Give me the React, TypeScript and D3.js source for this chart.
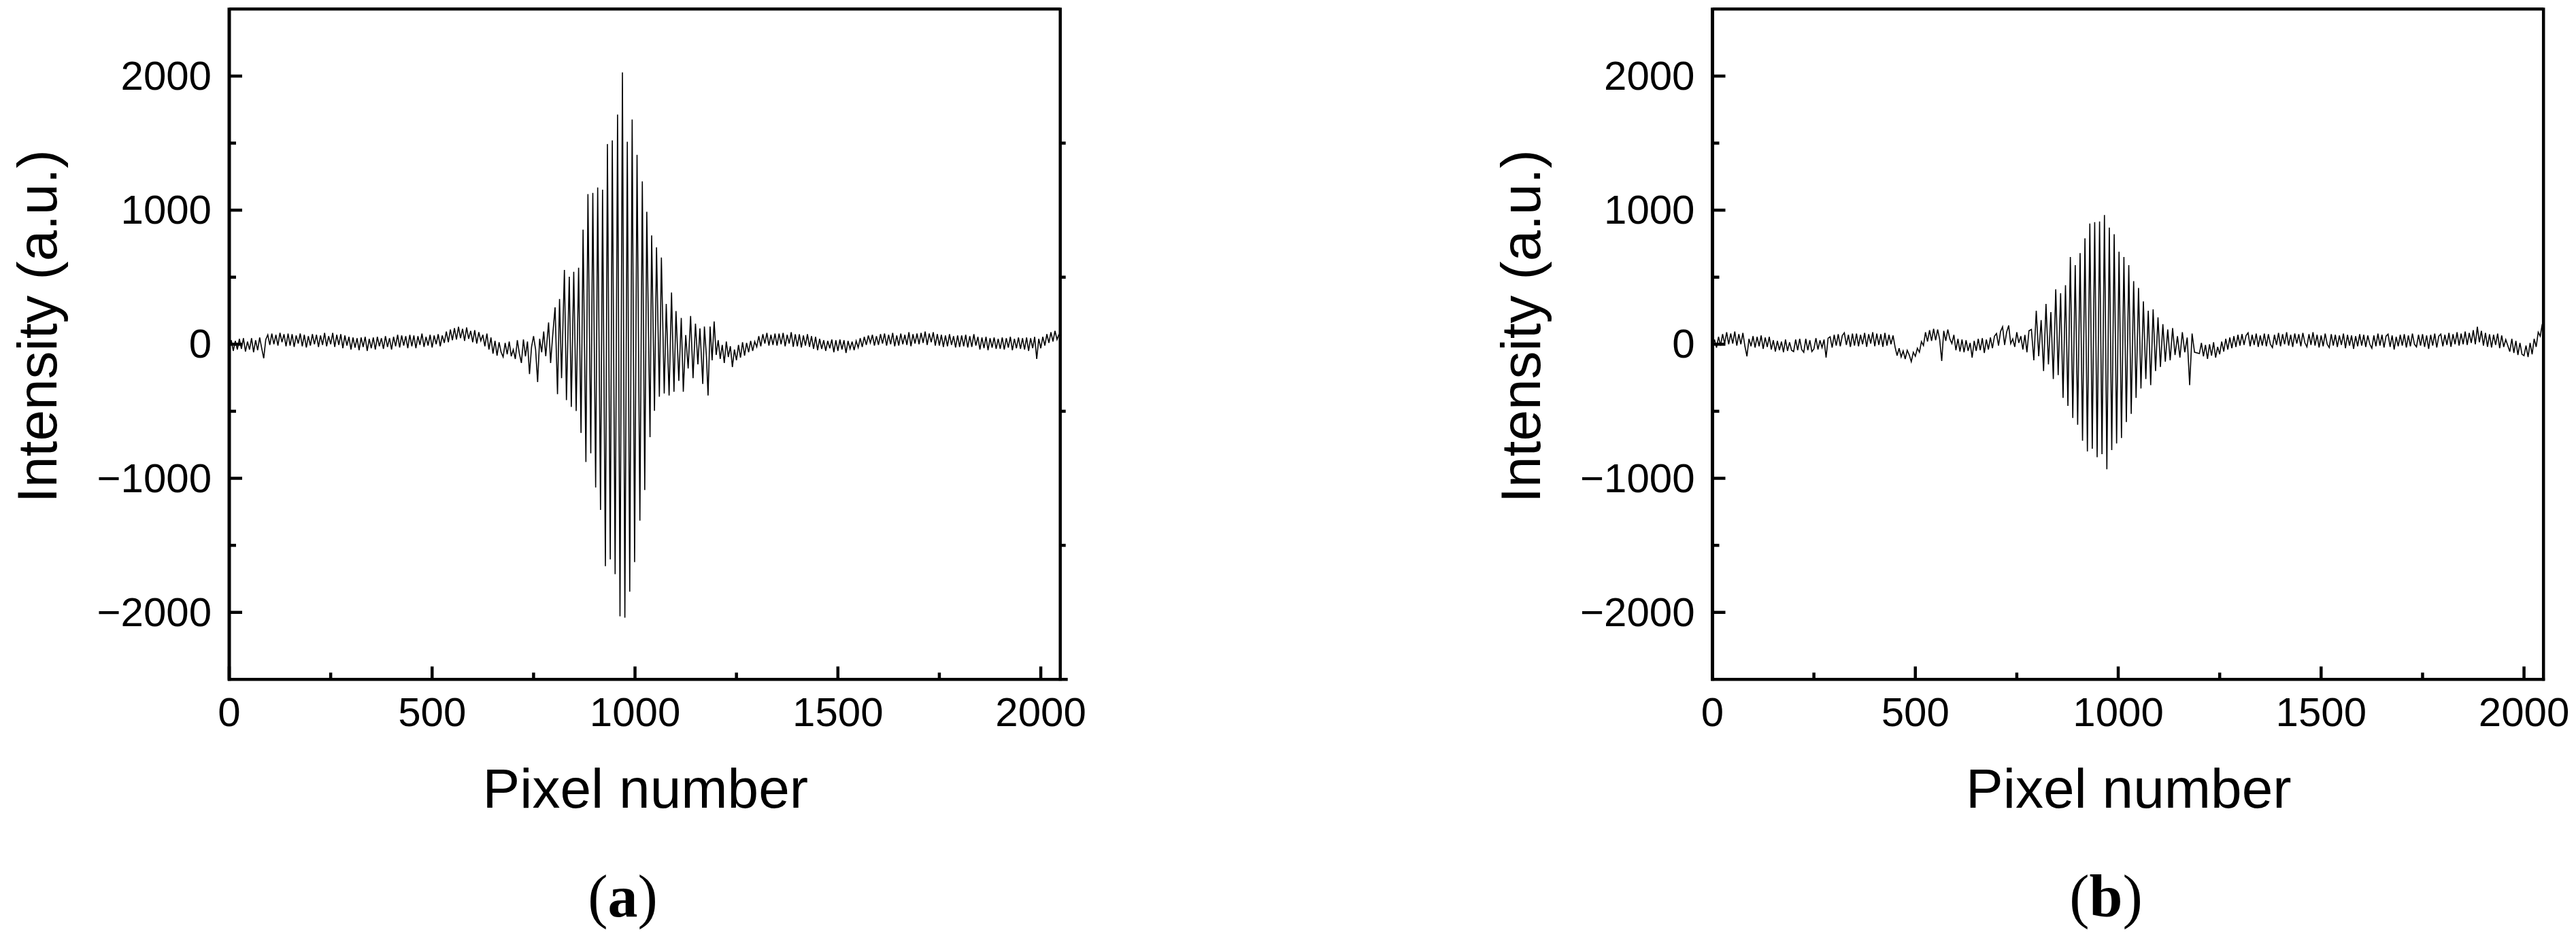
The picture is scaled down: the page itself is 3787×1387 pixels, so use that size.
import React from 'react';
import * as d3 from 'd3';

// ---------- axis ticks ----------
const xMajor = [0, 500, 1000, 1500, 2000];
const xMinor = [250, 750, 1250, 1750];
const yMajor = [-2000, -1000, 0, 1000, 2000];
const yMinor = [-1500, -500, 500, 1500];
const xDomain = [0, 2048];
const yDomain = [-2500, 2500];

// ---------- panel (a) ----------
// baseline samples every 5 pixels from pixel 0 to 735
const headA = [
  -45, 30, -50, 25, -40, 40, -35, 45, -55, 20,
  -40, 45, -60, 30, -45, 50, -30, -105, 35, 70,
  -5, 80, 0, 70, -10, 85, 15, 75, -15, 80,
  -10, 75, -20, 65, 5, 80, -15, 70, -25, 60,
  -10, 75, 0, 70, -20, 65, -5, 85, -15, 60,
  0, 85, -20, 70, -5, 75, -30, 65, -10, 55,
  -40, 50, -25, 45, -45, 50, -20, 55, -50, 40,
  -30, 50, -40, 55, -15, 45, -35, 60, -20, 45,
  -40, 55, -15, 70, -25, 65, -10, 60, -30, 70,
  -15, 65, -30, 60, -5, 80, -20, 55, -10, 70,
  -25, 65, 0, 75, -15, 65, 10, 95, 15, 110,
  30, 120, 35, 130, 45, 115, 25, 125, 40, 100,
  15, 105, 5, 90, 25, 70, -15, 80, -40, 50,
  -70, 25, -85, 15, -60, -95, 10, -75, 20, -90,
  -40, -110, 30, -70, -140, 35, -90, 20,
];
// fringe extrema [pixel, intensity]
const burstA: [number, number][] = [
  [740, -223], [745, -20], [750, 60], [755, -40], [760, -282], [765, 40], [770, -60], [775, 95], [780, -90],
  [787, 162], [792, -140], [797, 60], [803, 275], [809, -372], [814, 338], [819, -253], [826, 554], [831, -417],
  [838, 503], [843, -468], [849, 540], [855, -498], [861, 571], [867, -662], [872, 855], [879, -878],
  [884, 1120], [891, -814], [896, 1128], [903, -1068], [908, 1169], [915, -1236], [920, 1152], [927, -1655],
  [932, 1493], [939, -1605], [944, 1520], [951, -1715], [957, 1713], [963, -2030], [969, 2027], [975, -2039],
  [981, 1510], [987, -1845], [993, 1676], [999, -1625], [1005, 1412], [1012, -1316], [1018, 1215], [1024, -1088],
  [1029, 988], [1037, -693], [1041, 811], [1048, -497], [1053, 723], [1060, -392], [1065, 647], [1072, -367],
  [1077, 300], [1084, -383], [1090, 385], [1096, -355], [1101, 247], [1108, -274], [1114, 196], [1119, -355],
  [1125, 68], [1131, -181], [1137, 211], [1143, -253], [1149, 154], [1155, -150], [1160, 118], [1167, -296],
  [1171, 132], [1176, -90], [1180, -383], [1185, 132], [1190, -120], [1195, 170],
];
// baseline samples every 5 pixels from pixel 1200 to 2045
const tailA = [
  -80, 30, -110, -5, -140, 20, -95, -15, -170, -40,
  -120, -5, -100, 15, -85, 10, -60, 25, -50, 20,
  -20, 60, -15, 75, 5, 85, -10, 70, -5, 80,
  -10, 80, 0, 85, -15, 70, 5, 90, -20, 75,
  -15, 75, -25, 65, -10, 75, -20, 60, -35, 55,
  -45, 40, -35, 30, -50, 25, -30, 35, -60, 30,
  -50, 35, -40, 30, -65, 25, -35, 20, -45, 25,
  -25, 45, -20, 55, -5, 65, 10, 70, -10, 60,
  -5, 75, 5, 80, -10, 70, 0, 85, -15, 65,
  -10, 80, 0, 70, -5, 90, -15, 75, 5, 80,
  0, 85, 10, 95, -5, 80, 15, 90, -10, 75,
  -10, 70, -20, 65, -15, 75, -5, 60, -25, 65,
  -20, 65, -15, 70, -25, 60, -20, 75, -10, 55,
  -40, 50, -30, 55, -45, 45, -25, 50, -35, 40,
  -35, 50, -40, 45, -25, 55, -45, 40, -30, 50,
  -35, 45, -40, 50, -50, 45, -30, 55, -110, 40,
  -30, 55, -10, 75, 10, 90, 20, 100, 35, 75,
];

// ---------- panel (b) ----------
const headB = [
  -30, 35, -25, 55, -10, 75, 5, 90, 0, 80,
  5, 95, -10, 75, 0, 85, -15, -90, 40, -15,
  60, -25, 55, -15, 65, -35, 50, -20, 55, -40,
  30, -55, 25, -45, 20, -60, 35, -50, 15, -45,
  -55, 35, -45, 40, -40, -60, 40, -45, 30, -55,
  -35, 45, -40, 30, -25, 35, -100, 45, 55, -25,
  70, -10, 75, -15, 65, 85, -5, 70, -20, 80,
  -10, 80, -15, 70, 0, 85, -20, 75, 5, 90,
  -15, 80, -5, 75, -20, 85, -10, 70, 0, 65,
  -20, -85, -30, -95, -50, -110, -45, -80, -130, -60,
  -90, -30, -60, 20, -10, 90, 20, 105, 25, 115,
  30, 110, 35, -125, 100, 25, 110, 40, 5, 70,
  -45, 40, -55, 35, -60, 30, -50, 10, -100, 25,
  -50, 40, -45, 45, -65, 35, -40, 50, -30, 60,
  80, -10, 95, 130, -5, 90, 140, 5,
];
const burstB: [number, number][] = [
  [740, 40], [745, -20], [750, 90], [755, 10], [760, 60], [765, -40], [770, 70], [775, -60], [780, 100],
  [786, 110], [792, -120], [798, 250], [804, -90], [810, 180], [816, -200], [822, 300], [828, -150],
  [834, 240], [840, -260], [846, 410], [852, -230], [858, 380], [864, -400], [870, 440], [876, -460],
  [882, 650], [888, -550], [894, 590], [900, -600], [906, 680], [912, -720], [918, 790], [924, -800],
  [930, 900], [936, -780], [942, 910], [948, -843], [954, 915], [960, -820], [966, 964], [972, -933],
  [978, 870], [984, -790], [990, 820], [996, -740], [1002, 690], [1008, -700], [1014, 650], [1020, -580],
  [1026, 590], [1032, -520], [1038, 470], [1044, -400], [1050, 420], [1056, -330], [1062, 320], [1068, -260],
  [1074, 250], [1080, -305], [1086, 260], [1092, -200], [1098, 200], [1104, -170], [1110, 150], [1116, -130],
  [1122, 110], [1128, -120], [1134, 120], [1140, -80], [1146, 60], [1152, -100], [1158, 90], [1164, -60],
  [1170, 50], [1176, -305], [1182, 80], [1188, -60],
];
const tailB = [
  -70, 10, -90, -5, -110, 0, -85, 15, -100, -20,
  -75, 20, -55, 40, -40, 50, -30, 60, -20, 70,
  -10, 75, -5, 65, 85, -15, 70, -5, 80, -20,
  65, -10, 80, -15, 75, 0, -25, 70, -5, 85,
  -15, 75, 0, 90, -10, 70, -20, 80, 5, 75,
  -15, 85, 10, -20, 75, -5, 90, -10, 70, -25,
  65, -15, 80, 0, -25, 75, -10, 70, -20, 65,
  -5, 80, -30, 70, -10, 65, -35, 60, -15, 75,
  -10, 70, -20, 65, 0, -30, 65, -15, 80, -10,
  70, -25, 60, 75, -20, 65, -40, 55, -15, 70,
  -10, 75, -25, 65, -15, 80, 0, -20, 70, -10,
  75, -20, 65, -35, 70, -10, 80, -25, 60, 75,
  -15, 70, -5, 85, -20, 75, 0, 90, -10, 80,
  0, 95, -5, 85, 10, 105, 0, 130, 15, 100,
  -10, 85, -20, 75, -25, 70, -5, 80, -30, 65,
  -20, 35, -10, -55, 40, -65, 25, -80, 10, -75,
  -85, -10, -95, 10, -75, 40, -20, 90, 60, 150,
];

const SAMPLE_STEP = 5;
const TAIL_START = 1200;
const SANS = '"Liberation Sans", Arial, Helvetica, sans-serif';
const SERIF = '"Liberation Serif", "Times New Roman", serif';

type PanelProps = {
  ox: number;
  head: number[];
  burst: [number, number][];
  tail: number[];
  label: string;
  rightMinorOut: boolean;
  extendBottom: boolean;
};

function Panel({ ox, head, burst, tail, label, rightMinorOut, extendBottom }: PanelProps) {
  const left = 337 + ox;
  const right = left + 1221.7;
  const top = 13.3;
  const bottom = 999.3;
  const x = d3.scaleLinear().domain(xDomain).range([left, right]);
  const y = d3.scaleLinear().domain(yDomain).range([bottom, top]);

  const pts: [number, number][] = [
    ...head.map((v, i) => [i * SAMPLE_STEP, v] as [number, number]),
    ...burst,
    ...tail.map((v, i) => [TAIL_START + i * SAMPLE_STEP, v] as [number, number]),
  ];
  const line = d3
    .line<[number, number]>()
    .x((d) => x(d[0]))
    .y((d) => y(d[1]));

  const axisW = 4.5;
  const majorLen = 19;
  const minorLen = 10;
  const cx = (left + right) / 2;

  return (
    <g>
      <path d={line(pts) ?? ''} fill="none" stroke="#000" strokeWidth={1.6} strokeLinejoin="miter" />
      {/* frame */}
      <line x1={left} x2={right} y1={top} y2={top} stroke="#000" strokeWidth={axisW} />
      <line x1={right} x2={right} y1={top - 2} y2={bottom + 2} stroke="#000" strokeWidth={axisW} />
      <line x1={left} x2={left} y1={top - 2} y2={bottom + 2} stroke="#000" strokeWidth={5} />
      <line
        x1={left - 2}
        x2={extendBottom ? right + 11 : right + 2}
        y1={bottom}
        y2={bottom}
        stroke="#000"
        strokeWidth={axisW}
      />
      {/* x ticks */}
      {xMajor.map((t) => (
        <line key={'xM' + t} x1={x(t)} x2={x(t)} y1={bottom} y2={bottom - majorLen} stroke="#000" strokeWidth={4.5} />
      ))}
      {xMinor.map((t) => (
        <line key={'xm' + t} x1={x(t)} x2={x(t)} y1={bottom} y2={bottom - minorLen} stroke="#000" strokeWidth={4.5} />
      ))}
      {/* y ticks */}
      {yMajor.map((t) => (
        <line key={'yM' + t} x1={left} x2={left + majorLen} y1={y(t)} y2={y(t)} stroke="#000" strokeWidth={4.5} />
      ))}
      {yMinor.map((t) => (
        <line key={'ym' + t} x1={left} x2={left + minorLen} y1={y(t)} y2={y(t)} stroke="#000" strokeWidth={4.5} />
      ))}
      {rightMinorOut &&
        yMinor.map((t) => (
          <line key={'yr' + t} x1={right} x2={right + 8} y1={y(t)} y2={y(t)} stroke="#000" strokeWidth={4.5} />
        ))}
      {/* tick labels */}
      {xMajor.map((t) => (
        <text key={'xl' + t} x={x(t)} y={1068} textAnchor="middle" fontFamily={SANS} fontSize={60} fill="#000">
          {t}
        </text>
      ))}
      {yMajor.map((t) => (
        <text key={'yl' + t} x={left - 26} y={y(t) + 20} textAnchor="end" fontFamily={SANS} fontSize={60} fill="#000">
          {t < 0 ? '\u2212' + Math.abs(t) : String(t)}
        </text>
      ))}
      {/* axis titles */}
      <text x={cx + 1} y={1188} textAnchor="middle" fontFamily={SANS} fontSize={82} fill="#000">
        Pixel number
      </text>
      <text
        transform={`translate(${83 + ox},480) rotate(-90)`}
        textAnchor="middle"
        fontFamily={SANS}
        fontSize={82}
        fill="#000"
      >
        Intensity (a.u.)
      </text>
      {/* panel label */}
      <text x={915.5 + ox} y={1348} textAnchor="middle" fontFamily={SERIF} fontSize={88} fill="#000">
        (<tspan fontWeight="bold">{label}</tspan>)
      </text>
    </g>
  );
}

export default function App() {
  return (
    <svg
      width={3787}
      height={1387}
      viewBox="0 0 3787 1387"
      style={{ position: 'absolute', left: 0, top: 0, background: '#fff' }}
    >
      <rect x={0} y={0} width={3787} height={1387} fill="#fff" />
      <Panel ox={0} head={headA} burst={burstA} tail={tailA} label="a" rightMinorOut={true} extendBottom={true} />
      <Panel ox={2180.5} head={headB} burst={burstB} tail={tailB} label="b" rightMinorOut={false} extendBottom={false} />
    </svg>
  );
}
